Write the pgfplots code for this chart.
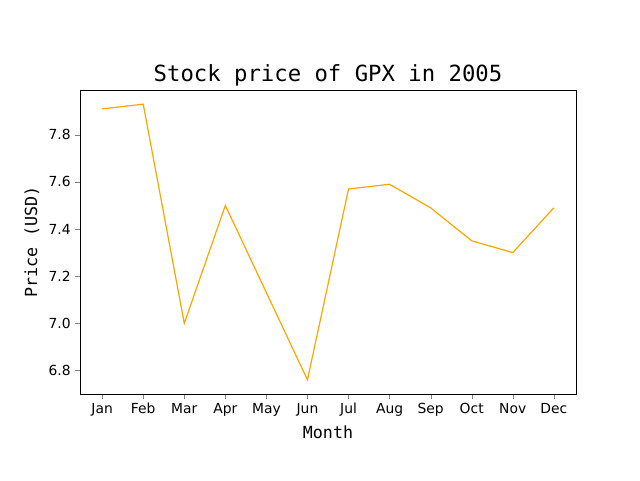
\documentclass[border=0pt]{standalone}
\usepackage{pgfplots}
\pgfplotsset{compat=1.18}
\usepackage{fontspec}
\setmainfont{DejaVu Sans}
\newfontfamily\mono{DejaVu Sans Mono}
\begin{document}
\begin{tikzpicture}
\path[use as bounding box] (-60pt,-64.5pt) rectangle (420pt,295.5pt);
\begin{axis}[
  at={(0,0)}, anchor=south west,
  scale only axis, width=372pt, height=228pt,
  xmin=-0.54, xmax=11.54, ymin=6.70, ymax=7.99,
  xtick={0,...,11},
  xticklabels={Jan,Feb,Mar,Apr,May,Jun,Jul,Aug,Sep,Oct,Nov,Dec},
  ytick={6.8,7.0,7.2,7.4,7.6,7.8},
  yticklabel style={/pgf/number format/.cd,fixed,fixed zerofill,precision=1},
  /pgf/number format/assume math mode=true,
  ticklabel style={font=\fontsize{10.4}{12}\selectfont},
  tick align=outside, tick pos=left, major tick length=3.5pt,
  title style={yshift=-6.5pt},
  title={\mono\fontsize{16.7}{19}\selectfont Stock price of GPX in 2005},
  xlabel={\mono\fontsize{12.5}{14}\selectfont Month},
  ylabel={\mono\fontsize{12.5}{14}\selectfont Price (USD)},
]
\addplot[color={rgb,255:red,255;green,165;blue,0}, line width=0.9pt] coordinates {
(0,7.91)(1,7.93)(2,7.00)(3,7.50)(4,7.13)(5,6.76)(6,7.57)(7,7.59)(8,7.49)(9,7.35)(10,7.30)(11,7.49)};
\end{axis}
\end{tikzpicture}
\end{document}
